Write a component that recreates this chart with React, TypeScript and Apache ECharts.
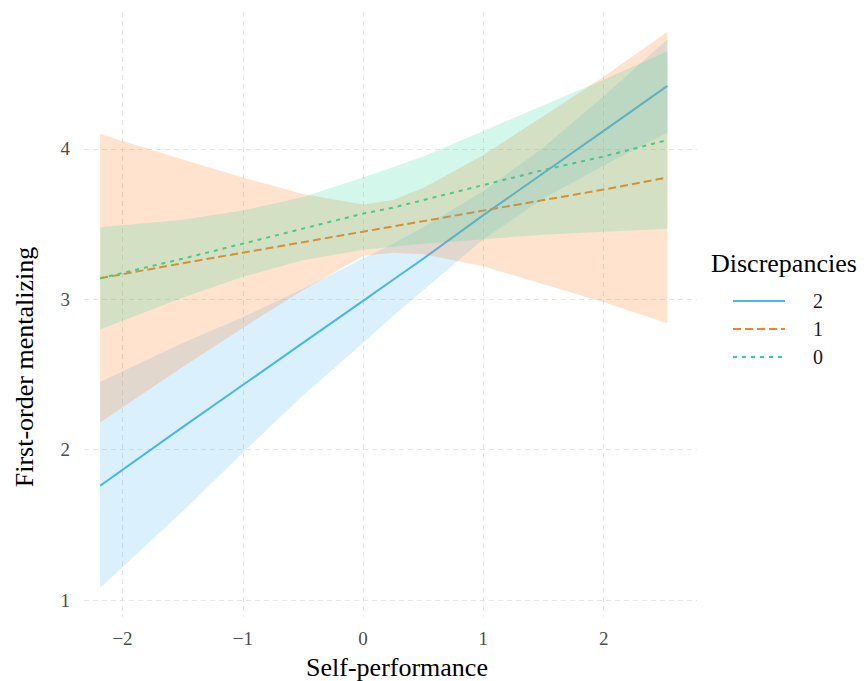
import React, { useEffect, useRef } from 'react';
import * as echarts from 'echarts';

// x positions (Self-performance)
const xs = [-2.186, -1.5, -1.0, -0.5, 0, 0.25, 0.5, 1.0, 1.5, 2.0, 2.53];
// Discrepancies = 2
const fit2 = [1.76, 2.15, 2.43, 2.71, 2.99, 3.13, 3.27, 3.56, 3.84, 4.12, 4.42];
const lo2 = [1.08, 1.59, 1.98, 2.36, 2.71, 2.89, 3.06, 3.40, 3.67, 3.89, 4.11];
const hi2 = [2.45, 2.71, 2.88, 3.07, 3.27, 3.37, 3.48, 3.72, 4.01, 4.35, 4.73];
// Discrepancies = 1
const fit1 = [3.14, 3.24, 3.31, 3.38, 3.45, 3.485, 3.52, 3.59, 3.66, 3.73, 3.81];
const lo1 = [2.18, 2.55, 2.81, 3.06, 3.29, 3.31, 3.30, 3.22, 3.10, 2.98, 2.84];
const hi1 = [4.10, 3.93, 3.81, 3.70, 3.63, 3.66, 3.74, 3.96, 4.22, 4.48, 4.78];
// Discrepancies = 0
const fit0 = [3.14, 3.27, 3.37, 3.47, 3.57, 3.61, 3.66, 3.76, 3.86, 3.95, 4.06];
const lo0 = [2.80, 3.01, 3.15, 3.26, 3.33, 3.35, 3.37, 3.40, 3.43, 3.45, 3.47];
const hi0 = [3.48, 3.53, 3.59, 3.68, 3.81, 3.88, 3.95, 4.12, 4.29, 4.46, 4.65];

const groups = ['2', '1', '0'];
const colors = ['#45B5F5', '#FF7F1E', '#2AD99A'];
const fills = ['rgba(69,181,245,0.2)', 'rgba(255,127,30,0.22)', 'rgba(42,217,154,0.2)'];
const dashes: any[] = ['solid', [8, 4], [4, 5]];

const xTitle = 'Self-performance';
const yTitle = 'First-order mentalizing';
const legendTitle = 'Discrepancies';

const FONT = "'Liberation Serif', 'Times New Roman', serif";

const minus = (v: number) => (v < 0 ? '\u2212' + Math.abs(v) : String(v));

export default function App() {
  const ref = useRef<HTMLDivElement>(null);
  useEffect(() => {
    if (!ref.current) return;
    const chart = echarts.init(ref.current, undefined, { renderer: 'svg' });
    const fits = [fit2, fit1, fit0];
    const los = [lo2, lo1, lo0];
    const his = [hi2, hi1, hi0];

    const lineSeries = groups.map((g, i) => ({
      name: g,
      type: 'line',
      z: 2,
      symbol: 'none',
      showSymbol: false,
      data: xs.map((x, k) => [x, fits[i][k]]),
      lineStyle: { color: colors[i], width: 2, type: dashes[i] },
      itemStyle: { color: colors[i] },
      silent: true,
    }));

    const bandSeries = groups.map((g, i) => ({
      name: 'band' + g,
      type: 'custom',
      z: 3,
      silent: true,
      data: xs.map((x, k) => [x, los[i][k], his[i][k]]),
      encode: { x: 0, y: [1, 2] },
      renderItem: (params: any, api: any) => {
        if (params.dataIndex !== 0) return null;
        const pts: number[][] = [];
        for (let k = 0; k < xs.length; k++) pts.push(api.coord([xs[k], his[i][k]]));
        for (let k = xs.length - 1; k >= 0; k--) pts.push(api.coord([xs[k], los[i][k]]));
        return { type: 'polygon', shape: { points: pts }, style: { fill: fills[i] } };
      },
    }));

    const gridLine = { show: true, showMinLine: false, showMaxLine: false, lineStyle: { color: '#E6E6E6', width: 1, type: [5, 4] } };

    chart.setOption({
      animation: false,
      grid: { left: 84, right: 170, top: 12, bottom: 64, containLabel: false },
      xAxis: {
        type: 'value',
        min: -2.32,
        max: 2.776,
        minInterval: 1,
        maxInterval: 1,
        axisLine: { show: false },
        axisTick: { show: false },
        splitLine: gridLine,
        axisLabel: {
          showMinLabel: false,
          showMaxLabel: false,
          margin: 12,
          fontFamily: FONT,
          fontSize: 19,
          color: '#4D4D4D',
          formatter: (v: number) => (Number.isInteger(v) ? minus(v) : ''),
        },
      },
      yAxis: {
        type: 'value',
        min: 0.887,
        max: 4.911,
        minInterval: 1,
        maxInterval: 1,
        axisLine: { show: false },
        axisTick: { show: false },
        splitLine: gridLine,
        axisLabel: {
          showMinLabel: false,
          showMaxLabel: false,
          margin: 14,
          fontFamily: FONT,
          fontSize: 19,
          color: '#4D4D4D',
          formatter: (v: number) => (Number.isInteger(v) ? minus(v) : ''),
        },
      },
      legend: {
        data: groups,
        orient: 'vertical',
        left: 727,
        top: 286,
        itemWidth: 52,
        itemHeight: 14,
        itemGap: 8,
        selectedMode: false,
        itemStyle: { opacity: 0 },
        textStyle: { fontFamily: FONT, fontSize: 20, color: '#1A1A1A', padding: [0, 0, 0, 23] },
      },
      graphic: [
        {
          type: 'text',
          x: 711,
          y: 263,
          style: { text: legendTitle, fontFamily: FONT, fontSize: 26, fill: '#000', align: 'left', verticalAlign: 'middle', textAlign: 'left', textVerticalAlign: 'middle' },
        },
        {
          type: 'text',
          x: 397,
          y: 667,
          style: { text: xTitle, fontFamily: FONT, fontSize: 26, fill: '#000', align: 'center', verticalAlign: 'middle', textAlign: 'center', textVerticalAlign: 'middle' },
        },
        {
          type: 'text',
          x: 24,
          y: 367,
          rotation: Math.PI / 2,
          style: { text: yTitle, fontFamily: FONT, fontSize: 26, fill: '#000', align: 'center', verticalAlign: 'middle', textAlign: 'center', textVerticalAlign: 'middle' },
        },
      ],
      series: [...lineSeries, ...bandSeries],
    });
    return () => chart.dispose();
  }, []);
  return <div ref={ref} style={{ position: 'absolute', left: 0, top: 0, width: 867, height: 681 }} />;
}
